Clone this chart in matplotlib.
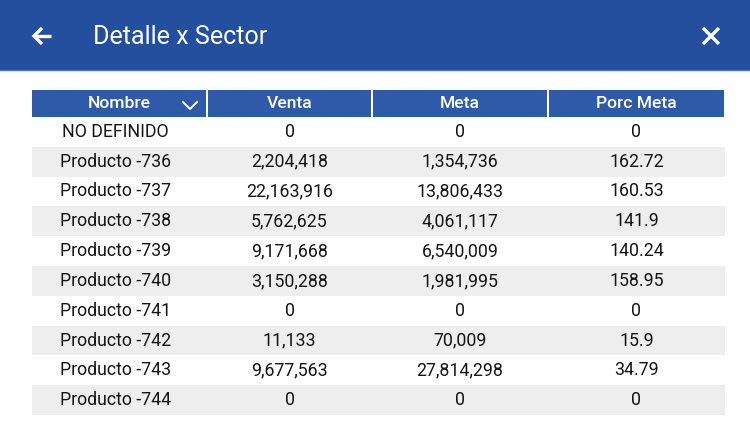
import matplotlib
matplotlib.use("Agg")
import matplotlib.pyplot as plt
from matplotlib.patches import Rectangle

plt.rcParams['font.family'] = ['Roboto', 'DejaVu Sans']

title = "Detalle x Sector"
columns = ["Nombre", "Venta", "Meta", "Porc Meta"]
names = ["NO DEFINIDO", "Producto -736", "Producto -737", "Producto -738", "Producto -739",
         "Producto -740", "Producto -741", "Producto -742", "Producto -743", "Producto -744"]
venta = [0, 2204418, 22163916, 5762625, 9171668, 3150288, 0, 11133, 9677563, 0]
meta = [0, 1354736, 13806433, 4061117, 6540009, 1981995, 0, 70009, 27814298, 0]
porc_meta = [0, 162.72, 160.53, 141.9, 140.24, 158.95, 0, 15.9, 34.79, 0]

W, H = 750, 422
fig = plt.figure(figsize=(7.5, 4.22), dpi=100)
ax = fig.add_axes([0, 0, 1, 1])
ax.set_xlim(0, W)
ax.set_ylim(H, 0)
ax.axis('off')

BAR = "#234F9E"
HEAD = "#2E5AA8"

# app bar
ax.add_patch(Rectangle((0, 0), W, 70, facecolor=BAR, edgecolor='none'))
ax.plot([0, W], [69.5, 69.5], color="#4A72B8", lw=1)
ax.text(93, 36.5, title, color='white', fontsize=18.1, va='center', ha='left')
# back arrow
aw = dict(color='white', lw=2.4, solid_capstyle='butt', solid_joinstyle='miter')
ax.plot([34, 51], [36, 36], **aw)
ax.plot([42, 34, 42], [28, 36, 44], **aw)
# close X
ax.plot([703, 719], [28, 44], **aw)
ax.plot([703, 719], [44, 28], **aw)

# table layout
bounds = [32, 207, 372, 548, 725]
head_top, head_bot = 90, 117
row_h = 29.8

for j, col in enumerate(columns):
    x0 = bounds[j] + (1 if j > 0 else 0)
    x1 = bounds[j + 1] - 1
    ax.add_patch(Rectangle((x0, head_top), x1 - x0, head_bot - head_top,
                           facecolor=HEAD, edgecolor='none'))
    cx = (bounds[j] + bounds[j + 1]) / 2
    ax.text(cx, (head_top + head_bot) / 2 + 0.5, col, color='white', fontsize=12.6,
            fontweight='medium', ha='center', va='center')

# chevron in header
ax.plot([183, 190, 197], [102, 109, 102], color='white', lw=1.4)

def fmt_int(v):
    return f"{v:,}"

def fmt_pct(v):
    return f"{v:g}"

for i, name in enumerate(names):
    top = head_bot + i * row_h
    if i % 2 == 1:
        ax.add_patch(Rectangle((bounds[0], top), bounds[-1] - bounds[0], row_h,
                               facecolor="#EEEEEE", edgecolor='none'))
    cy = top + row_h / 2
    vals = [name, fmt_int(venta[i]), fmt_int(meta[i]), fmt_pct(porc_meta[i])]
    for j, v in enumerate(vals):
        cx = (bounds[j] + bounds[j + 1]) / 2
        if j == 0:
            cx -= 4
        ax.text(cx, cy, v, color='#151515', fontsize=12.8, ha='center', va='center')

fig.savefig("out.png", dpi=100, facecolor='white')
